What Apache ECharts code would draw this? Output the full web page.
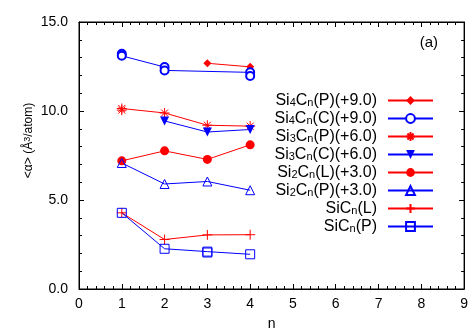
<!DOCTYPE html>
<html>
<head>
<meta charset="utf-8">
<script src="https://cdn.jsdelivr.net/npm/echarts@6/dist/echarts.min.js"></script>
<style>
  html, body { margin: 0; padding: 0; background: #fff; }
  #chart { width: 471px; height: 336px; }
</style>
</head>
<body>
<div id="chart"></div>
<script>
const xTicks = [0, 1, 2, 3, 4, 5, 6, 7, 8, 9];
const yTicks = [0, 5, 10, 15];
const yTickLabels = ["0.0", "5.0", "10.0", "15.0"];

const seriesNames = [
  "Si4Cn(P)(+9.0)", "Si4Cn(C)(+9.0)", "Si3Cn(P)(+6.0)", "Si3Cn(C)(+6.0)",
  "Si2Cn(L)(+3.0)", "Si2Cn(P)(+3.0)", "SiCn(L)", "SiCn(P)"
];

// [n, <alpha>] pairs, several isomers at the same n where the plot shows them
const si4cnP = [[3, 12.68], [4, 12.48]];
const si4cnC = [[1, 13.22], [1, 13.1], [2, 12.47], [2, 12.28], [4, 12.17], [4, 11.97]];
const si3cnP = [[1, 10.14], [1, 10.05], [2, 9.89], [3, 9.2], [4, 9.15]];
const si3cnC = [[2, 9.44], [3, 8.82], [4, 8.96]];
const si2cnL = [[1, 7.2], [2, 7.76], [3, 7.28], [4, 8.1]];
const si2cnP = [[1, 7.08], [2, 5.9], [3, 6.04], [4, 5.55]];
const sicnL = [[1, 4.28], [2, 2.78], [3, 3.04], [4, 3.05]];
const sicnP = [[1, 4.28], [2, 2.26], [3, 2.1], [3, 2.05], [4, 1.95]];

const RED = "#ff0000";
const BLUE = "#0000ff";

const asterisk = "path://M0,5L10,5M5,0L5,10M1.5,1.5L8.5,8.5M8.5,1.5L1.5,8.5";
const plus = "path://M0,5L10,5M5,0L5,10";
const downTri = "path://M0,0L10,0L5,9Z";
const upTri = "path://M5,0L10,9L0,9Z";
const square = "path://M0,0L10,0L10,10L0,10Z";

function mkSeries(name, data, color, symbol, size, item) {
  return {
    name: name,
    type: "line",
    data: data,
    symbol: symbol,
    symbolSize: size,
    showAllSymbol: true,
    lineStyle: { color: color, width: 1 },
    itemStyle: item || { color: color, borderColor: color, borderWidth: 0 },
    emphasis: { disabled: true },
    z: 3
  };
}

const hollow = (c) => ({ color: "none", borderColor: c, borderWidth: 1 });

const series = [
  mkSeries(seriesNames[0], si4cnP, RED, "diamond", 8),
  mkSeries(seriesNames[1], si4cnC, BLUE, "emptyCircle", 8, { color: BLUE, borderColor: BLUE, borderWidth: 2.5 }),
  mkSeries(seriesNames[2], si3cnP, RED, asterisk, 10, hollow(RED)),
  mkSeries(seriesNames[3], si3cnC, BLUE, downTri, 9),
  mkSeries(seriesNames[4], si2cnL, RED, "circle", 9),
  mkSeries(seriesNames[5], si2cnP, BLUE, upTri, 9, hollow(BLUE)),
  mkSeries(seriesNames[6], sicnL, RED, plus, 10, hollow(RED)),
  mkSeries(seriesNames[7], sicnP, BLUE, square, 9, hollow(BLUE))
];

function richName(name) {
  const m = name.match(/^Si(\d?)Cn(.*)$/);
  let s = "{m|Si}";
  if (m[1]) s += "{s|" + m[1] + "}";
  return s + "{m|C}{s|n}{m|" + m[2] + "}";
}

function yLabel(v) {
  const i = yTicks.indexOf(Number(v));
  return i >= 0 ? yTickLabels[i] : "";
}

function axis(extra) {
  return Object.assign({
    type: "value",
    axisLine: { show: true, onZero: false, lineStyle: { color: "#000", width: 1 } },
    axisTick: { show: true, inside: true, length: 5, lineStyle: { color: "#000", width: 1 } },
    minorTick: { show: true, splitNumber: 5, length: 3, lineStyle: { color: "#000", width: 1 } },
    splitLine: { show: false }
  }, extra);
}

const chart = echarts.init(document.getElementById("chart"));

chart.setOption({
  animation: false,
  backgroundColor: "#fff",
  textStyle: { fontFamily: "Liberation Sans, Arial, sans-serif" },
  grid: { left: 79, right: 5, top: 22, bottom: 45, show: true, borderColor: "#000", borderWidth: 1, backgroundColor: "transparent" },
  title: {
    text: "(a)", right: 28, top: 30,
    textStyle: { fontSize: 15, fontWeight: "normal", color: "#000" }
  },
  legend: {
    orient: "vertical",
    align: "right",
    right: 37,
    top: 93,
    padding: 0,
    itemGap: 2,
    itemWidth: 45,
    itemHeight: 11,
    data: seriesNames,
    selectedMode: false,
    formatter: richName,
    textStyle: {
      color: "#000",
      padding: [0, 6, 0, 0],
      rich: {
        m: { fontSize: 16, color: "#000", lineHeight: 15, verticalAlign: "top" },
        s: { fontSize: 11, color: "#000", lineHeight: 11, verticalAlign: "bottom" }
      }
    }
  },
  xAxis: [
    axis({
      min: xTicks[0], max: xTicks[xTicks.length - 1], interval: 1,
      name: "n", nameLocation: "middle", nameGap: 28,
      nameTextStyle: { fontSize: 14, color: "#000" },
      axisLabel: { fontSize: 14, color: "#000", margin: 8 }
    }),
    axis({
      position: "top", min: xTicks[0], max: xTicks[xTicks.length - 1], interval: 1,
      axisLabel: { show: false }
    })
  ],
  yAxis: [
    axis({
      min: yTicks[0], max: yTicks[yTicks.length - 1], interval: 5,
      name: "<α> (Å{sup|3}/atom)", nameLocation: "middle", nameGap: 44, nameMoveOverlap: false,
      nameTextStyle: {
        fontSize: 12, color: "#000", padding: [0, 0, 0, 30],
        rich: { sup: { fontSize: 9, color: "#000", verticalAlign: "top", lineHeight: 9 } }
      },
      axisLabel: { fontSize: 14, color: "#000", margin: 11, formatter: yLabel }
    }),
    axis({
      position: "right", min: yTicks[0], max: yTicks[yTicks.length - 1], interval: 5,
      axisLabel: { show: false }
    })
  ],
  series: series
});
</script>
</body>
</html>
